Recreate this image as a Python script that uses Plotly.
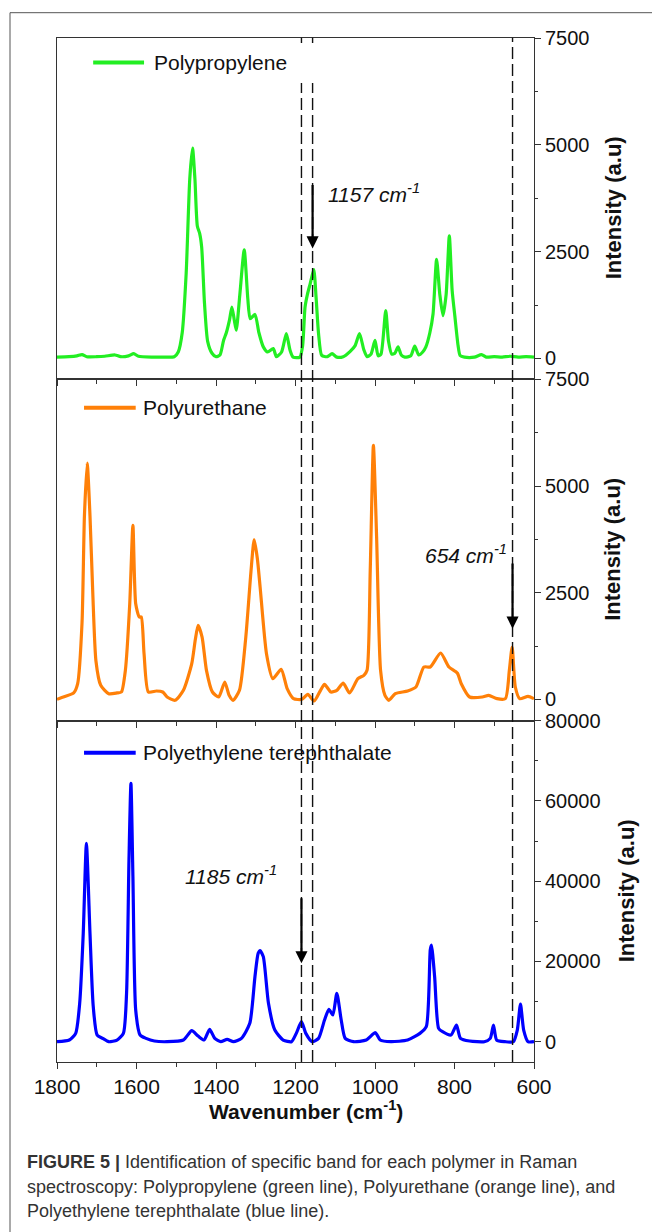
import plotly.graph_objects as go
from plotly.subplots import make_subplots

# ---------------- data ----------------
pp_wn = [1800, 1770, 1750, 1737, 1725, 1700, 1680, 1654, 1640, 1620, 1607, 1595, 1560, 1530, 1505,
         1495, 1485, 1475, 1466, 1459, 1453, 1447, 1441, 1436, 1429, 1421, 1410, 1400, 1390, 1381,
         1374, 1366, 1360, 1354, 1349, 1340, 1329, 1320, 1314, 1302, 1292, 1281, 1270, 1256, 1248,
         1235, 1223, 1214, 1206, 1189, 1182, 1176, 1170, 1163, 1154, 1148, 1142, 1134, 1120, 1108,
         1096, 1080, 1063, 1050, 1039, 1028, 1020, 1010, 1000, 992, 985, 973, 966, 958, 950, 942,
         934, 925, 910, 900, 890, 880, 872, 862, 854, 845, 837, 829, 821, 813, 806, 799, 791, 786,
         775, 750, 732, 720, 700, 680, 660, 640, 620, 600]
pp_int = [30, 40, 60, 90, 40, 40, 50, 80, 40, 60, 110, 50, 30, 30, 40,
          150, 600, 2000, 4200, 4920, 4200, 3100, 2920, 2600, 1300, 400, 120, 40, 80, 420,
          600, 900, 1200, 900, 660, 1500, 2540, 1400, 930, 1030, 600, 270, 150, 230, 40,
          150, 580, 200, 30, 30, 300, 1200, 1500, 1750, 2076, 1400, 580, 70, 40, 110,
          30, 40, 160, 300, 580, 200, 40, 100, 420, 60, 100, 1120, 400, 100, 120, 270,
          80, 30, 60, 290, 80, 150, 270, 600, 1040, 2320, 1500, 1000, 1500, 2870, 1600, 980, 300, 70,
          30, 30, 90, 30, 40, 30, 50, 30, 40, 30]

pu_wn = [1800, 1784, 1758, 1748, 1737, 1731, 1724, 1717, 1710, 1702, 1690, 1670, 1649, 1638, 1628,
         1617, 1609, 1602, 1593, 1588, 1581, 1570, 1550, 1534, 1523, 1503, 1482, 1461, 1452, 1445,
         1435, 1424, 1409, 1393, 1378, 1367, 1357, 1341, 1325, 1312, 1304, 1296, 1289, 1273, 1257,
         1236, 1221, 1205, 1184, 1169, 1153, 1137, 1127, 1111, 1096, 1080, 1064, 1043, 1028, 1020,
         1012, 1004, 996, 986, 975, 965, 949, 918, 897, 877, 861, 835, 814, 793, 783, 762, 730,
         714, 693, 672, 662, 655, 647, 636, 615, 600]
pu_int = [0, 55, 150, 367, 1800, 4300, 5537, 4300, 2500, 900, 328, 133, 150, 172, 680,
          2240, 4077, 2240, 1930, 1930, 1070, 172, 195, 172, 55, -23, 211, 836, 1400, 1734,
          1460, 680, 172, 55, 406, 94, -23, 211, 1460, 3000, 3741, 3300, 2632, 1070, 484,
          703, 250, 16, 0, 117, -39, 211, 351, 172, 211, 383, 148, 484, 562, 680,
          3022, 5951, 3819, 680, 94, -23, 133, 195, 289, 758, 758, 1086, 758, 617, 367, 55, 55,
          94, 16, 16, 680, 1226, 289, 16, 70, 16]

pet_wn = [1800, 1769, 1753, 1743, 1734, 1726, 1717, 1709, 1699, 1685, 1670, 1649, 1633, 1625, 1619,
          1614, 1609, 1602, 1591, 1576, 1555, 1523, 1482, 1461, 1445, 1430, 1416, 1403, 1388, 1372,
          1356, 1336, 1315, 1302, 1294, 1289, 1281, 1268, 1252, 1231, 1210, 1198, 1185, 1174, 1158,
          1142, 1127, 1116, 1106, 1096, 1085, 1075, 1054, 1022, 999, 987, 960, 918, 887, 871, 861,
          858, 850, 840, 830, 809, 795, 785, 762, 725, 710, 702, 694, 673, 652, 642, 634, 626, 615, 600]
pet_int = [0, 415, 2077, 9500, 27000, 49400, 27000, 9000, 1660, 830, 0, 415, 2077, 12050, 45000,
           64400, 41100, 7900, 1660, 830, 166, 0, 415, 2740, 1410, 415, 3070, 830, 0, 580,
           0, 830, 4570, 16200, 22000, 22700, 21200, 9560, 2900, 415, 0, 2077, 4990, 2077, 0,
           830, 5400, 8060, 6650, 12050, 5400, 830, 0, 415, 2240, 415, 0, 415, 2077, 3740, 22850,
           24100, 16200, 3320, 2490, 1660, 4150, 830, 166, 0, 830, 4150, 415, 0, 0, 2900, 9390, 2900, 0, 0]

series_names = ["Polypropylene", "Polyurethane", "Polyethylene terephthalate"]
series_colors = ["#22ee22", "#ff8008", "#0000ff"]
marked_bands = [1185, 1157, 654]
y_ticks_small = [0, 2500, 5000, 7500]
y_ticks_big = [0, 20000, 40000, 60000, 80000]

FONT = "Liberation Sans, Arial, Helvetica, sans-serif"

# layout geometry (pixels)
ML, MR, MT, MB = 57, 118, 38, 170
W, H = 652, 1232
PW = W - ML - MR
PH = H - MT - MB


def px(xp):
    return (xp - ML) / PW


def py(yp):
    return (H - MB - yp) / PH


fig = make_subplots(rows=3, cols=1, shared_xaxes=True, vertical_spacing=0)

data = [(pp_wn, pp_int), (pu_wn, pu_int), (pet_wn, pet_int)]
for i, (wn, it) in enumerate(data):
    fig.add_trace(go.Scatter(x=wn, y=it, mode="lines", name=series_names[i],
                             line=dict(color=series_colors[i], width=3.2, shape="spline", smoothing=0.6),
                             showlegend=False), row=i + 1, col=1)

axis_col = "#333333"
for r in (1, 2, 3):
    fig.update_xaxes(row=r, col=1, range=[1800, 600], autorange=False, tick0=0, dtick=200,
                     ticks="outside", ticklen=6, tickwidth=1, tickcolor=axis_col,
                     showline=True, linecolor=axis_col, linewidth=1, mirror=True,
                     showgrid=False, zeroline=False,
                     minor=dict(dtick=100, tick0=0, ticks="outside", ticklen=4, tickcolor=axis_col, showgrid=False),
                     showticklabels=(r == 3), tickfont=dict(family=FONT, size=21, color="#111"))

ranges = [[-490, 7500], [-500, 7500], [-5060, 80000]]
for r in (1, 2, 3):
    tv = y_ticks_big if r == 3 else y_ticks_small
    mdt = 10000 if r == 3 else 1250
    fig.update_yaxes(row=r, col=1, range=ranges[r - 1], autorange=False, side="right",
                     tickvals=tv, ticktext=[str(v) for v in tv],
                     ticks="outside", ticklen=6, tickwidth=1, tickcolor=axis_col,
                     showline=True, linecolor=axis_col, linewidth=1, mirror=True,
                     showgrid=False, zeroline=False,
                     minor=dict(dtick=mdt, tick0=0, ticks="outside", ticklen=3, tickcolor=axis_col, showgrid=False),
                     tickfont=dict(family=FONT, size=20, color="#111"))

shapes = []
annotations = []

# outer figure frame
shapes.append(dict(type="rect", xref="paper", yref="paper", x0=px(10), x1=px(720), y0=py(1300), y1=py(12.7),
                   line=dict(color="#555", width=1), fillcolor="rgba(0,0,0,0)", layer="below"))

# dashed marker lines
for b in marked_bands:
    top = 37.7 if b == 654 else 83
    shapes.append(dict(type="line", xref="x", yref="paper", x0=b, x1=b, y0=0, y1=py(top),
                       line=dict(color="#111", width=1.4, dash="12px,5px")))
    if b != 654:
        shapes.append(dict(type="line", xref="x", yref="paper", x0=b, x1=b, y0=py(43), y1=py(37.7),
                           line=dict(color="#111", width=1.4)))

# legends (line sample + text), per panel
leg = [("x", "y", 1709, 1581, 6929, 1561),
       ("x2", "y2", 1732, 1602, 6835, 1588),
       ("x3", "y3", 1732, 1602, 72020, 1588)]
for i, (xr, yr, lx0, lx1, ly, tx) in enumerate(leg):
    shapes.append(dict(type="line", xref=xr, yref=yr, x0=lx0, x1=lx1, y0=ly, y1=ly,
                       line=dict(color=series_colors[i], width=4)))
    annotations.append(dict(xref=xr, yref=yr, x=tx, y=ly, text=series_names[i], showarrow=False,
                            xanchor="left", yanchor="middle", font=dict(family=FONT, size=21, color="#111")))

# band arrows and labels
arrows = [("x", "y", 1157, 2575, 4096), ("x2", "y2", 654, 1657, 3217), ("x3", "y3", 1185, 19540, 36130)]
for xr, yr, b, yh, yt in arrows:
    annotations.append(dict(xref=xr, yref=yr, x=b, y=yh, axref=xr, ayref=yr, ax=b, ay=yt, text="",
                            showarrow=True, arrowhead=2, arrowsize=1.1, arrowwidth=2.2, arrowcolor="#000"))
labels = [("x", "y", 1123, 3862, "left", "<i>1157 cm<sup>-1</sup></i>"),
          ("x2", "y2", 662, 3414, "right", "<i>654 cm<sup>-1</sup></i>"),
          ("x3", "y3", 1484, 41540, "left", "<i>1185 cm<sup>-1</sup></i>")]
for xr, yr, x, y, anc, t in labels:
    annotations.append(dict(xref=xr, yref=yr, x=x, y=y, text=t, showarrow=False, xanchor=anc,
                            yanchor="middle", font=dict(family=FONT, size=21, color="#111")))

# axis titles
annotations.append(dict(xref="paper", yref="paper", x=px(306), y=py(1110), text="<b>Wavenumber (cm<sup>-1</sup>)</b>",
                        showarrow=False, xanchor="center", yanchor="middle",
                        font=dict(family=FONT, size=21, color="#111")))
ycent = [(37.7 + 379) / 2, (379 + 720.7) / 2, (720.7 + 1062) / 2]
yxs = [613, 613, 626]
for i in range(3):
    annotations.append(dict(xref="paper", yref="paper", x=px(yxs[i]), y=py(ycent[i]),
                            text="<b>Intensity (a.u)</b>", textangle=-90, showarrow=False,
                            xanchor="center", yanchor="middle",
                            font=dict(family=FONT, size=22, color="#111")))

# caption
cap = ["<b>FIGURE 5 |</b> Identification of specific band for each polymer in Raman",
       "spectroscopy: Polypropylene (green line), Polyurethane (orange line), and",
       "Polyethylene terephthalate (blue line)."]
cap_y = [1162, 1187, 1211]
for t, yy in zip(cap, cap_y):
    annotations.append(dict(xref="paper", yref="paper", x=px(25), y=py(yy), text=t, showarrow=False,
                            xanchor="left", yanchor="middle",
                            font=dict(family=FONT, size=18, color="#333")))

fig.update_layout(width=W, height=H, margin=dict(l=ML, r=MR, t=MT, b=MB, autoexpand=False),
                  paper_bgcolor="white", plot_bgcolor="white", showlegend=False,
                  shapes=shapes, annotations=annotations, font=dict(family=FONT))

fig.write_html("out.html")
